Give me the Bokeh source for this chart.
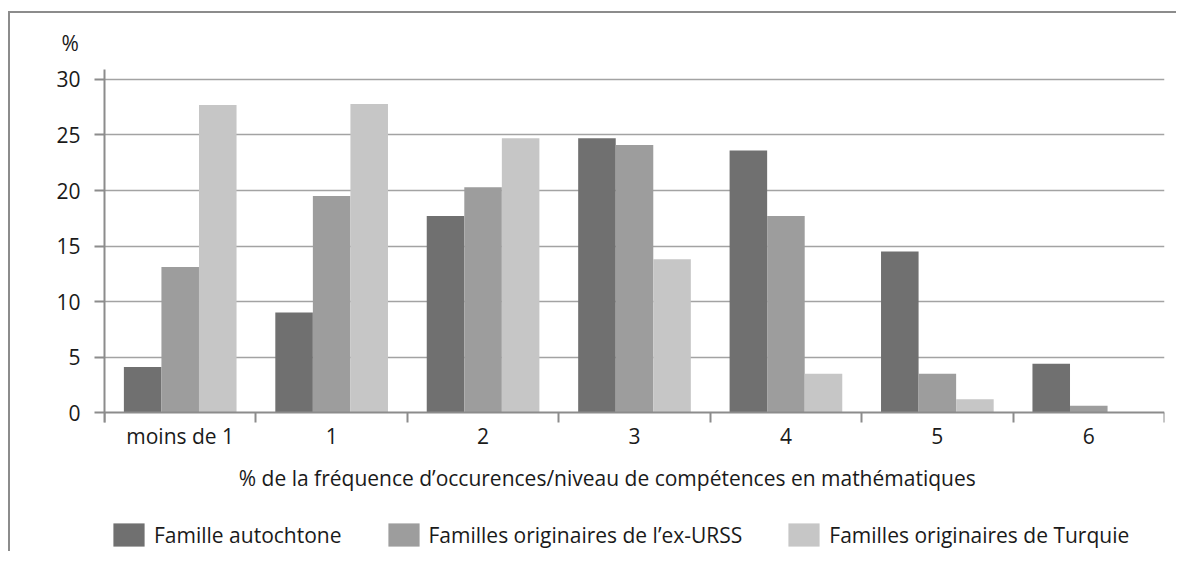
from bokeh.plotting import figure
from bokeh.models import (ColumnDataSource, FixedTicker, Range1d, Label, Legend, LegendItem)
from bokeh.transform import dodge
from bokeh.embed import file_html
from bokeh.resources import INLINE

# ---- data ----
categories = ["moins de 1", "1", "2", "3", "4", "5", "6"]
autochtone = [4.1, 9.0, 17.7, 24.7, 23.6, 14.5, 4.4]
ex_urss = [13.1, 19.5, 20.3, 24.1, 17.7, 3.5, 0.6]
turquie = [27.7, 27.8, 24.7, 13.8, 3.5, 1.2, 0.0]
series_names = ["Famille autochtone", "Familles originaires de l\u2019ex-URSS",
                "Familles originaires de Turquie"]
y_ticks = [0, 5, 10, 15, 20, 25, 30]
x_title = "% de la fr\u00e9quence d\u2019occurences/niveau de comp\u00e9tences en math\u00e9matiques"

FONT = "Open Sans"
FS = "21px"
TXT = "#1a1a1a"
AX = "#8c8c8c"
colors = ["#707070", "#9d9d9d", "#c6c6c6"]

centers = [i + 0.5 for i in range(len(categories))]
src = ColumnDataSource(dict(x=centers, a=autochtone, b=ex_urss, c=turquie))

# frame: top at y=30.9, bottom extends below the x axis to hold title and legend
p = figure(width=1168, height=540, output_backend="svg", toolbar_location=None,
           x_range=Range1d(0, len(categories)), y_range=Range1d(-12.7, 30.9),
           min_border_left=94, min_border_right=14, min_border_top=56,
           min_border_bottom=0)
p.styles = {"border-left": "2px solid #8c8c8c", "border-top": "2px solid #8c8c8c",
            "margin-top": "11px", "margin-left": "8px"}
p.outline_line_color = None
p.background_fill_color = "white"
p.border_fill_color = "white"

bw = 0.248
r1 = p.vbar(x=dodge("x", -bw, range=p.x_range), top="a", width=bw, source=src,
            fill_color=colors[0], line_color=None)
r2 = p.vbar(x=dodge("x", 0.0, range=p.x_range), top="b", width=bw, source=src,
            fill_color=colors[1], line_color=None)
r3 = p.vbar(x=dodge("x", bw, range=p.x_range), top="c", width=bw, source=src,
            fill_color=colors[2], line_color=None)

# x axis, pinned at y = 0
xa = p.xaxis[0]
xa.fixed_location = 0
xa.ticker = FixedTicker(ticks=centers, minor_ticks=list(range(len(categories) + 1)))
xa.major_label_overrides = {c: lab for c, lab in zip(centers, categories)}
xa.major_tick_out = 0
xa.major_tick_in = 0
xa.minor_tick_out = 10
xa.minor_tick_in = 0
xa.minor_tick_line_color = AX
xa.minor_tick_line_width = 2
xa.axis_line_color = AX
xa.axis_line_width = 2
xa.major_label_text_font = FONT
xa.major_label_text_font_size = FS
xa.major_label_text_color = TXT
xa.major_label_standoff = -1

# y axis
ya = p.yaxis[0]
ya.bounds = (-0.9, 30.9)
ya.ticker = FixedTicker(ticks=y_ticks)
ya.major_tick_out = 10
ya.major_tick_in = 0
ya.minor_tick_line_color = None
ya.major_tick_line_color = AX
ya.major_tick_line_width = 2
ya.axis_line_color = AX
ya.axis_line_width = 2
ya.major_label_text_font = FONT
ya.major_label_text_font_size = FS
ya.major_label_text_color = TXT
ya.major_label_standoff = 14

p.xgrid.grid_line_color = None
p.ygrid.ticker = FixedTicker(ticks=y_ticks[1:])
p.ygrid.grid_line_color = "#a3a3a3"
p.ygrid.grid_line_width = 1.5

# "%" as the top title
p.title.text = "%"
p.title.align = "left"
p.title.offset = -43
p.title.text_font = FONT
p.title.text_font_size = FS
p.title.text_font_style = "normal"
p.title.text_color = TXT
p.title.standoff = 26

# x title inside the extended frame
p.add_layout(Label(x=3.32, y=-5.86, text=x_title, text_font=FONT, text_font_size=FS,
                   text_color=TXT, text_align="center", text_baseline="middle"))

legend = Legend(items=[LegendItem(label=series_names[0], renderers=[r1]),
                       LegendItem(label=series_names[1], renderers=[r2]),
                       LegendItem(label=series_names[2], renderers=[r3])],
                orientation="horizontal", location=(5, 4),
                glyph_width=39, glyph_height=29, label_standoff=6, spacing=42,
                padding=0, margin=0, border_line_color=None,
                background_fill_alpha=0,
                label_text_font=FONT, label_text_font_size=FS, label_text_color=TXT)
p.add_layout(legend, "center")

open("out.html", "w").write(file_html(p, INLINE))
